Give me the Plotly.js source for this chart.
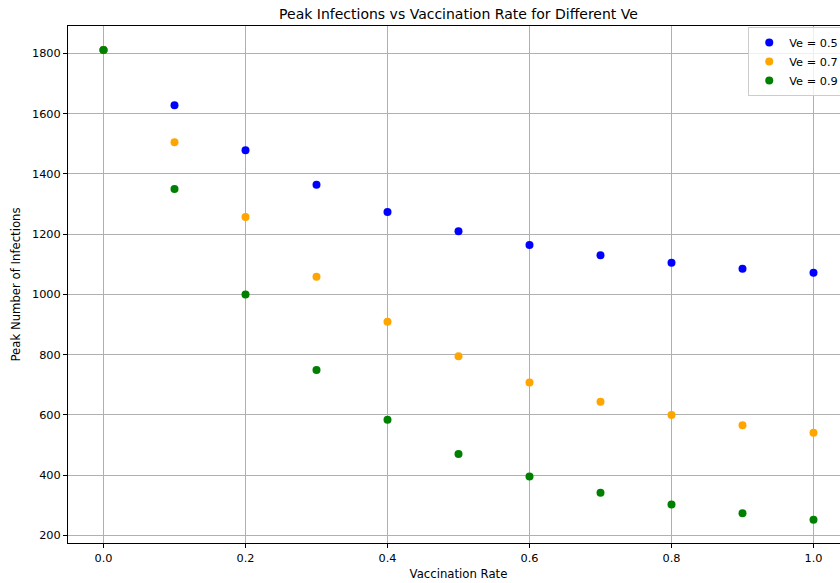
<!DOCTYPE html>
<html>
<head>
<meta charset="utf-8">
<script src="https://cdn.plot.ly/plotly-3.0.1.min.js"></script>
<style>
  html, body { margin: 0; padding: 0; overflow: hidden; background: #fff; }
  #chart { width: 850px; height: 583px; }
</style>
</head>
<body>
<div id="chart"></div>
<script>
// Vaccination rates (x)
const vaccinationRates = [0.0, 0.1, 0.2, 0.3, 0.4, 0.5, 0.6, 0.7, 0.8, 0.9, 1.0];

// Peak infections for each vaccine efficacy
const peakVe05 = [1811, 1628, 1479, 1364, 1274, 1210, 1164, 1130, 1105, 1085, 1072];
const peakVe07 = [1811, 1505, 1257, 1059, 909, 795, 708, 644, 600, 566, 541];
const peakVe09 = [1811, 1350, 1000, 749, 584, 470, 396, 342, 303, 274, 252];

const seriesNames = ["Ve = 0.5", "Ve = 0.7", "Ve = 0.9"];
const seriesColors = ["blue", "orange", "green"];
const seriesValues = [peakVe05, peakVe07, peakVe09];

const xTickVals = [0.0, 0.2, 0.4, 0.6, 0.8, 1.0];
const xTickText = ["0.0", "0.2", "0.4", "0.6", "0.8", "1.0"];
const yTickVals = [200, 400, 600, 800, 1000, 1200, 1400, 1600, 1800];

const FONT = "DejaVu Sans, sans-serif";

const traces = seriesValues.map((vals, i) => ({
  type: "scatter",
  mode: "markers",
  x: vaccinationRates,
  y: vals,
  name: seriesNames[i],
  marker: { color: seriesColors[i], size: 8, line: { width: 0 } }
}));

const axisCommon = {
  showline: true,
  linecolor: "#000",
  linewidth: 1,
  mirror: true,
  ticks: "outside",
  ticklen: 4,
  tickwidth: 1,
  tickcolor: "#000",
  showgrid: true,
  gridcolor: "#b0b0b0",
  gridwidth: 1,
  zeroline: false,
  tickfont: { family: FONT, size: 11.3, color: "#000" }
};

const layout = {
  width: 850,
  height: 583,
  margin: { l: 68, r: 1, t: 26, b: 40 },
  paper_bgcolor: "#fff",
  plot_bgcolor: "#fff",
  font: { family: FONT, size: 11.5, color: "#000" },
  title: {
    text: "Peak Infections vs Vaccination Rate for Different Ve",
    font: { family: FONT, size: 14, color: "#000" },
    xref: "paper", x: 0.5, xanchor: "center",
    yref: "container", y: 0.976, yanchor: "middle"
  },
  xaxis: Object.assign({}, axisCommon, {
    range: [-0.05, 1.05],
    tickmode: "array",
    tickvals: xTickVals,
    ticktext: xTickText,
    title: { text: "Vaccination Rate", font: { family: FONT, size: 11.7, color: "#000" }, standoff: 6 }
  }),
  yaxis: Object.assign({}, axisCommon, {
    range: [175, 1891],
    tickmode: "array",
    tickvals: yTickVals,
    title: { text: "Peak Number of Infections", font: { family: FONT, size: 11.7, color: "#000" }, standoff: 8 }
  }),
  showlegend: true,
  legend: {
    x: 0.871, xanchor: "left",
    y: 0.998, yanchor: "top",
    bgcolor: "rgba(255,255,255,0.8)",
    bordercolor: "#cccccc",
    borderwidth: 1,
    font: { family: FONT, size: 11.3, color: "#000" }
  }
};

Plotly.newPlot("chart", traces, layout, { displayModeBar: false, staticPlot: true });
</script>
</body>
</html>
